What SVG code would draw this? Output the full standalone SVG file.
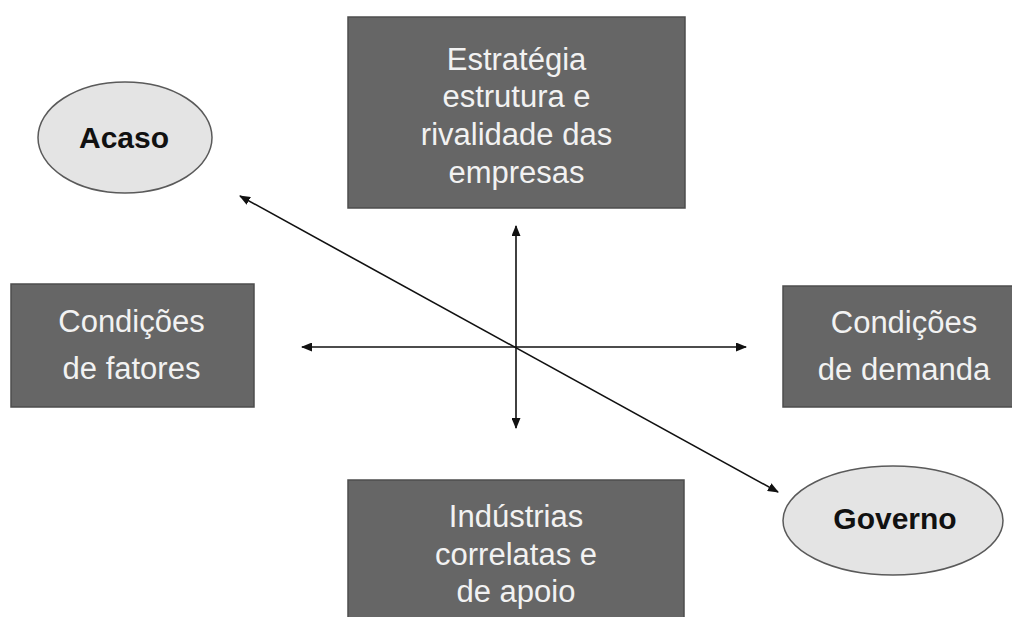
<svg xmlns="http://www.w3.org/2000/svg" width="1012" height="617" viewBox="0 0 1012 617">
<style>
.box{fill:#666666;stroke:#4d4d4d;stroke-width:1.5}
.oval{fill:#e4e4e4;stroke:#5a5a5a;stroke-width:1.5}
.bt{font-family:"Liberation Sans",Arial,sans-serif;font-size:31px;fill:#f2f2f2;text-anchor:middle}
.ot{font-family:"Liberation Sans",Arial,sans-serif;font-size:30px;font-weight:bold;fill:#111111;text-anchor:middle}
.con{stroke:#111111;stroke-width:1.6;fill:none;marker-start:url(#ah);marker-end:url(#ah)}
</style>
<defs>
<marker id="ah" viewBox="0 0 11 9" refX="10" refY="4.5" markerWidth="11" markerHeight="9" markerUnits="userSpaceOnUse" orient="auto-start-reverse">
<path d="M0,0 L11,4.5 L0,9 Z" fill="#111111"/>
</marker>
</defs>
<rect width="1012" height="617" fill="#ffffff"/>
<g id="connectors">
<line class="con" x1="516" y1="226" x2="516" y2="428"/>
<line class="con" x1="302" y1="347" x2="746" y2="347"/>
<line class="con" x1="240" y1="196" x2="778" y2="492"/>
</g>
<g id="estrategia">
<rect class="box" x="348" y="17" width="337" height="191"/>
<text class="bt" x="516.5" y="70">Estratégia</text>
<text class="bt" x="516.5" y="107">estrutura e</text>
<text class="bt" x="516.5" y="145">rivalidade das</text>
<text class="bt" x="516.5" y="183">empresas</text>
</g>
<g id="fatores">
<rect class="box" x="11" y="284" width="243" height="123"/>
<text class="bt" x="131.5" y="332">Condições</text>
<text class="bt" x="131.5" y="379">de fatores</text>
</g>
<g id="demanda">
<rect class="box" x="783" y="286" width="242" height="121"/>
<text class="bt" x="904" y="333">Condições</text>
<text class="bt" x="904" y="380">de demanda</text>
</g>
<g id="industrias">
<rect class="box" x="348" y="480" width="336" height="150"/>
<text class="bt" x="516" y="527">Indústrias</text>
<text class="bt" x="516" y="565">correlatas e</text>
<text class="bt" x="516" y="602">de apoio</text>
</g>
<g id="acaso">
<ellipse class="oval" cx="125" cy="137.5" rx="87" ry="55.5"/>
<text class="ot" x="124" y="148">Acaso</text>
</g>
<g id="governo">
<ellipse class="oval" cx="893" cy="520.5" rx="110" ry="54.5"/>
<text class="ot" x="895" y="529">Governo</text>
</g>
</svg>
